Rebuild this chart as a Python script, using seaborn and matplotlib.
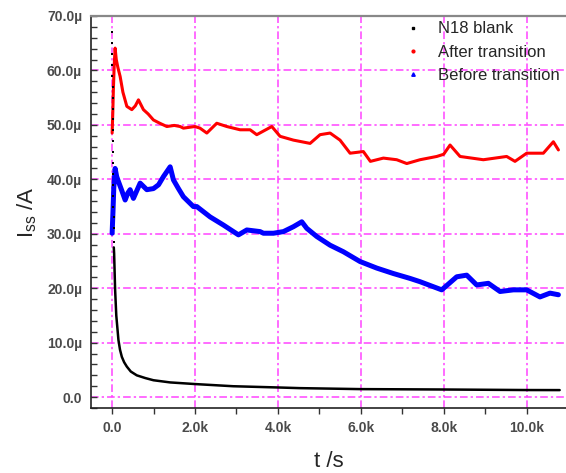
import numpy as np
import pandas as pd
import matplotlib
matplotlib.use('Agg')
import matplotlib.pyplot as plt
import seaborn as sns
from matplotlib.ticker import MultipleLocator, FuncFormatter
from matplotlib.lines import Line2D

## readings (t in s, current in uA)
blank_dots_t = [0, 2, 4, 6, 8, 10, 12, 14, 16, 18, 20, 22, 24, 26, 28, 30, 32, 34, 36, 38]
blank_dots_i = [67.0, 65.0, 63.0, 61.0, 59.0, 57.0, 55.0, 53.0, 51.0, 49.0,
                47.0, 45.0, 43.0, 41.0, 39.0, 37.0, 35.0, 33.0, 31.0, 28.5]
blank_t = [40, 48, 60, 72, 100, 152, 190, 234, 290, 355, 450, 595, 800, 997, 1400,
           2000, 2920, 3970, 4535, 6000, 8000, 9000, 10000, 10800]
blank_i = [27.5, 26.4, 23.0, 19.7, 15.0, 10.5, 8.7, 7.4, 6.4, 5.6, 4.7, 4.0, 3.5, 3.1, 2.7,
           2.4, 2.0, 1.78, 1.65, 1.47, 1.4, 1.35, 1.3, 1.29]

after_t = [0, 15, 30, 50, 72, 100, 140, 193, 260, 355, 475, 560, 635, 755, 870, 997, 1150,
           1320, 1500, 1640, 1720, 2000, 2120, 2285, 2525, 2767, 3088, 3330, 3490, 3853,
           4053, 4375, 4777, 5018, 5260, 5500, 5742, 6063, 6232, 6546, 6868, 7110, 7430,
           7834, 8000, 8155, 8396, 8958, 9521, 9722, 10004, 10406, 10648, 10770]
after_i = [48.5, 52.0, 56.5, 61.0, 64.1, 62.0, 60.5, 58.9, 56.0, 53.4, 52.8, 53.5, 54.6,
           52.8, 52.0, 50.9, 50.3, 49.7, 49.9, 49.7, 49.4, 49.7, 49.4, 48.5, 50.3, 49.7,
           49.1, 49.1, 48.2, 49.7, 47.9, 47.2, 46.6, 48.2, 48.5, 47.2, 44.8, 45.1, 43.3,
           43.9, 43.6, 42.9, 43.6, 44.2, 44.6, 46.3, 44.2, 43.6, 44.2, 43.3, 44.8, 44.8,
           46.9, 45.4]

before_t = [0, 20, 40, 72, 110, 152, 230, 314, 380, 434, 514, 600, 676, 837, 997, 1120,
            1238, 1400, 1479, 1600, 1720, 1961, 2043, 2364, 2686, 3048, 3250, 3570, 3651,
            3893, 4134, 4375, 4577, 4697, 4938, 5260, 5581, 5983, 6386, 6787, 7190, 7430,
            7954, 8316, 8557, 8798, 9079, 9361, 9683, 10004, 10325, 10566, 10770]
before_i = [30.1, 34.0, 38.5, 42.0, 40.5, 39.6, 38.0, 36.2, 37.5, 38.1, 36.5, 38.0, 39.3,
            38.1, 38.3, 39.0, 40.5, 42.3, 39.9, 38.3, 36.8, 35.0, 35.0, 33.1, 31.6, 29.8,
            30.7, 30.4, 30.1, 30.1, 30.4, 31.3, 32.2, 31.0, 29.5, 27.9, 26.7, 24.9, 23.7,
            22.7, 21.8, 21.2, 19.7, 22.1, 22.4, 20.6, 20.9, 19.4, 19.7, 19.7, 18.4, 19.1,
            18.8]

sns.set_style('white')
plt.rcParams['font.family'] = ['Liberation Sans', 'DejaVu Sans']
plt.rcParams['mathtext.fontset'] = 'custom'
plt.rcParams['mathtext.rm'] = 'Liberation Sans'
plt.rcParams['mathtext.it'] = 'Liberation Sans:italic'

blank = pd.DataFrame({'t': blank_t, 'I': np.array(blank_i) * 1e-6})
dots = pd.DataFrame({'t': blank_dots_t, 'I': np.array(blank_dots_i) * 1e-6})
after = pd.DataFrame({'t': after_t, 'I': np.array(after_i) * 1e-6})
before = pd.DataFrame({'t': before_t, 'I': np.array(before_i) * 1e-6})

fig = plt.figure(figsize=(5.66, 4.73), dpi=100)
ax = fig.add_axes([0.161, 0.1374, 0.839, 0.8288])

grid_kw = dict(color='#ff44ff', lw=1.1, ls=(0, (5, 2, 1.5, 2)), zorder=0)
for v in np.arange(0, 70e-6, 10e-6):
    ax.axhline(v, **grid_kw)
for v in np.arange(0, 11000, 2000):
    ax.axvline(v, **grid_kw)

sns.lineplot(data=after, x='t', y='I', color='red', lw=2.2, ax=ax, zorder=3)
sns.lineplot(data=before, x='t', y='I', color='blue', lw=3.6, ax=ax, zorder=3)
sns.lineplot(data=blank, x='t', y='I', color='black', lw=1.8, ax=ax, zorder=4)
sns.scatterplot(data=dots, x='t', y='I', color='black', marker='s', s=3, linewidth=0,
                ax=ax, zorder=4)

ax.set_xlim(-507, 10953)
ax.set_ylim(-2.0e-6, 70.0e-6)

ax.xaxis.set_major_locator(MultipleLocator(2000))
ax.xaxis.set_minor_locator(MultipleLocator(1000))
ax.yaxis.set_major_locator(MultipleLocator(10e-6))
ax.yaxis.set_minor_locator(MultipleLocator(2e-6))
ax.xaxis.set_major_formatter(FuncFormatter(lambda v, p: '0.0' if abs(v) < 1e-9 else f'{v/1000:.1f}k'))
ax.yaxis.set_major_formatter(FuncFormatter(lambda v, p: '0.0' if abs(v) < 1e-12 else f'{v*1e6:.1f}\u00b5'))

ax.tick_params(axis='x', which='both', direction='out', length=4, width=1, colors='#333333',
               labelsize=10, pad=5, bottom=True)
ax.tick_params(axis='y', which='both', direction='in', length=4, width=1, colors='#333333',
               labelsize=10, pad=6.5, left=True)
for lab in ax.get_xticklabels() + ax.get_yticklabels():
    lab.set_fontweight('bold')
    lab.set_color('#4a4a4a')

for s in ['left', 'bottom']:
    ax.spines[s].set_color('#222222')
    ax.spines[s].set_linewidth(1.2)
ax.spines['top'].set_color('#888888')
ax.spines['top'].set_linewidth(1.6)
ax.spines['right'].set_visible(False)

ax.set_xlabel('t /s', fontsize=16, labelpad=12)
ax.set_ylabel(r'I$_{\rm ss}$ /A', fontsize=16, labelpad=6)

handles = [Line2D([], [], ls='none', marker='s', ms=2, color='black'),
           Line2D([], [], ls='none', marker='o', ms=2, color='red'),
           Line2D([], [], ls='none', marker='^', ms=2.5, color='blue')]
leg = ax.legend(handles, ['N18 blank', 'After transition', 'Before transition'],
                loc='upper right', bbox_to_anchor=(1.0, 1.003), frameon=False,
                fontsize=12, labelspacing=0.5, handlelength=1.0, handletextpad=1.0,
                borderaxespad=0.0)

fig.savefig('out.png', dpi=100)
